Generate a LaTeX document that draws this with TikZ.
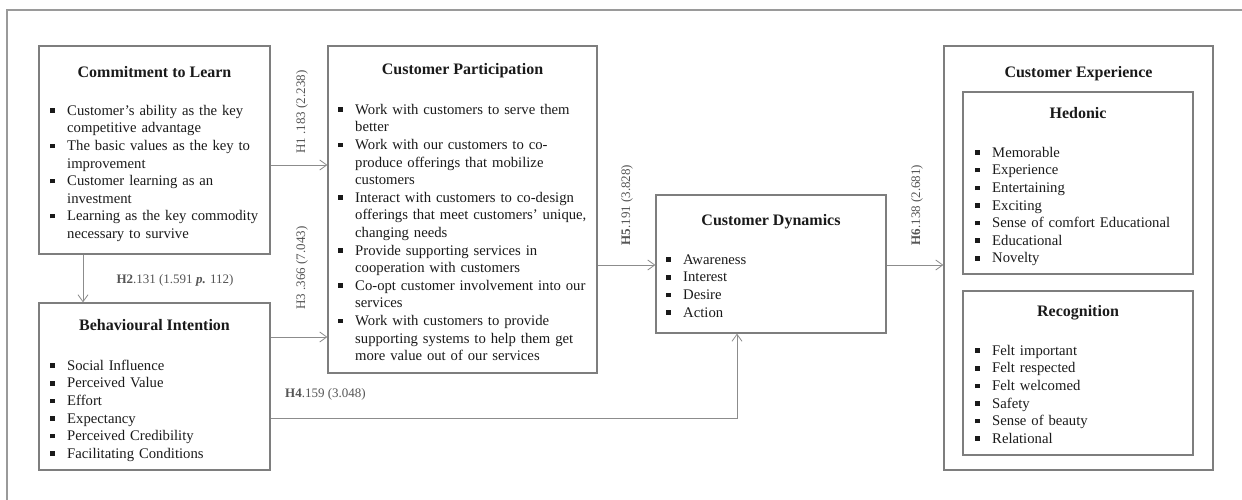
\documentclass[tikz,border=0pt]{standalone}
\usepackage{fontspec}
\setmainfont{Liberation Serif}
\usetikzlibrary{arrows.meta}
\definecolor{boxgray}{HTML}{7E7E7E}
\definecolor{linegray}{HTML}{8C8C8C}
\definecolor{labgray}{HTML}{555555}
\definecolor{framegray}{HTML}{9A9A9A}
\definecolor{txt}{HTML}{1A1A1A}
\newcommand{\bul}{\rule[2.4pt]{4.5pt}{4.5pt}}
\newlength{\itind}\setlength{\itind}{17pt}
\newcommand{\itm}[1]{\par\noindent\hangindent=\itind\hangafter=1\makebox[\itind][l]{\rule{0pt}{12pt}\bul}#1\par}
\tikzset{
  box/.style={draw=boxgray, line width=1.2pt, inner sep=0pt},
  ttl/.style={font=\fontsize{16}{19}\selectfont\bfseries, anchor=base, inner sep=0pt, text=txt},
  lst/.style={font=\fontsize{14.7}{17.6}\selectfont, anchor=north west, inner sep=0pt, text width=262pt, align=left, text=txt},
  lab/.style={font=\fontsize{13}{15}\selectfont, text=labgray, inner sep=0pt},
  arr/.style={draw=linegray, line width=0.8pt, -{Straight Barb[length=7pt,width=10pt,line width=0.8pt]}},
}
\begin{document}
\begin{tikzpicture}[x=1pt,y=-1pt]
\useasboundingbox (0,0) rectangle (1242,500);
\draw[framegray, line width=2.6pt] (7,501) -- (7,10) -- (1243,10);

% boxes
\node[box, minimum width=231pt, minimum height=208pt] (CtL) at (154.5,150) {};
\node[box, minimum width=231pt, minimum height=167pt] (BI) at (154.5,386.5) {};
\node[box, minimum width=269pt, minimum height=327pt] (CP) at (462.5,209.5) {};
\node[box, minimum width=230pt, minimum height=138pt] (Dyn) at (771,264) {};
\node[box, minimum width=269pt, minimum height=424pt] (CE) at (1078.5,258) {};
\node[box, minimum width=230pt, minimum height=182pt] (Hed) at (1078,183) {};
\node[box, minimum width=230pt, minimum height=164pt] (Rec) at (1078,373) {};

% titles
\node[ttl] (tCtL) at (154.5,77.5) {Commitment to Learn};
\node[ttl] (tCP) at (462.5,75) {Customer Participation};
\node[ttl] (tBI) at (154.5,330.5) {Behavioural Intention};
\node[ttl] (tDyn) at (771,225.5) {Customer Dynamics};
\node[ttl] (tCE) at (1078.5,77.5) {Customer Experience};
\node[ttl] (tHed) at (1078,118.5) {Hedonic};
\node[ttl] (tRec) at (1078,316.5) {Recognition};

% lists
\node[lst] (lCtL) at (50,97.5) {%
\itm{Customer’s ability as the key\newline competitive advantage}
\itm{The basic values as the key to\newline improvement}
\itm{Customer learning as an\newline investment}
\itm{Learning as the key commodity\newline necessary to survive}};

\node[lst] (lCP) at (338,96.5) {%
\itm{Work with customers to serve them\newline better}
\itm{Work with our customers to co-\newline produce offerings that mobilize\newline customers}
\itm{Interact with customers to co-design\newline offerings that meet customers’ unique,\newline changing needs}
\itm{Provide supporting services in\newline cooperation with customers}
\itm{Co-opt customer involvement into our\newline services}
\itm{Work with customers to provide\newline supporting systems to help them get\newline more value out of our services}};

\node[lst] (lBI) at (50,352.5) {%
\itm{Social Influence}
\itm{Perceived Value}
\itm{Effort}
\itm{Expectancy}
\itm{Perceived Credibility}
\itm{Facilitating Conditions}};

\node[lst] (lDyn) at (666,246.5) {%
\itm{Awareness}
\itm{Interest}
\itm{Desire}
\itm{Action}};

\node[lst] (lHed) at (975,139.5) {%
\itm{Memorable}
\itm{Experience}
\itm{Entertaining}
\itm{Exciting}
\itm{Sense of comfort Educational}
\itm{Educational}
\itm{Novelty}};

\node[lst] (lRec) at (975,337.5) {%
\itm{Felt important}
\itm{Felt respected}
\itm{Felt welcomed}
\itm{Safety}
\itm{Sense of beauty}
\itm{Relational}};

% connector reference coordinates
\coordinate (c1) at (300,165);
\coordinate (c2) at (83,280);
\coordinate (c3) at (300,337);
\coordinate (c4) at (737,418);
\coordinate (c5) at (626,265);

% connectors
\draw[arr] (CtL.east |- c1) -- (CP.west |- c1);
\draw[arr] (CtL.south -| c2) -- (BI.north -| c2);
\draw[arr] (BI.east |- c3) -- (CP.west |- c3);
\draw[arr] (BI.east |- c4) -| (Dyn.south -| c4);
\draw[arr] (CP.east |- c5) -- (Dyn.west |- c5);
\draw[arr] (Dyn.east |- c5) -- (CE.west |- c5);

% labels
\node[lab, rotate=90] (h1) at (302,112) {H1 .183 (2.238)};
\node[lab] (h2) at (175,280) {\textbf{H2}.131 (1.591 \textbf{\textit{p.}} 112)};
\node[lab, rotate=90] (h3) at (302,268) {H3 .366 (7.043)};
\node[lab, anchor=west] (h4) at (285,394) {\textbf{H4}.159 (3.048)};
\node[lab, rotate=90] (h5) at (627,205) {\textbf{H5}.191 (3.828)};
\node[lab, rotate=90] (h6) at (917,205) {\textbf{H6}.138 (2.681)};
\end{tikzpicture}
\end{document}
